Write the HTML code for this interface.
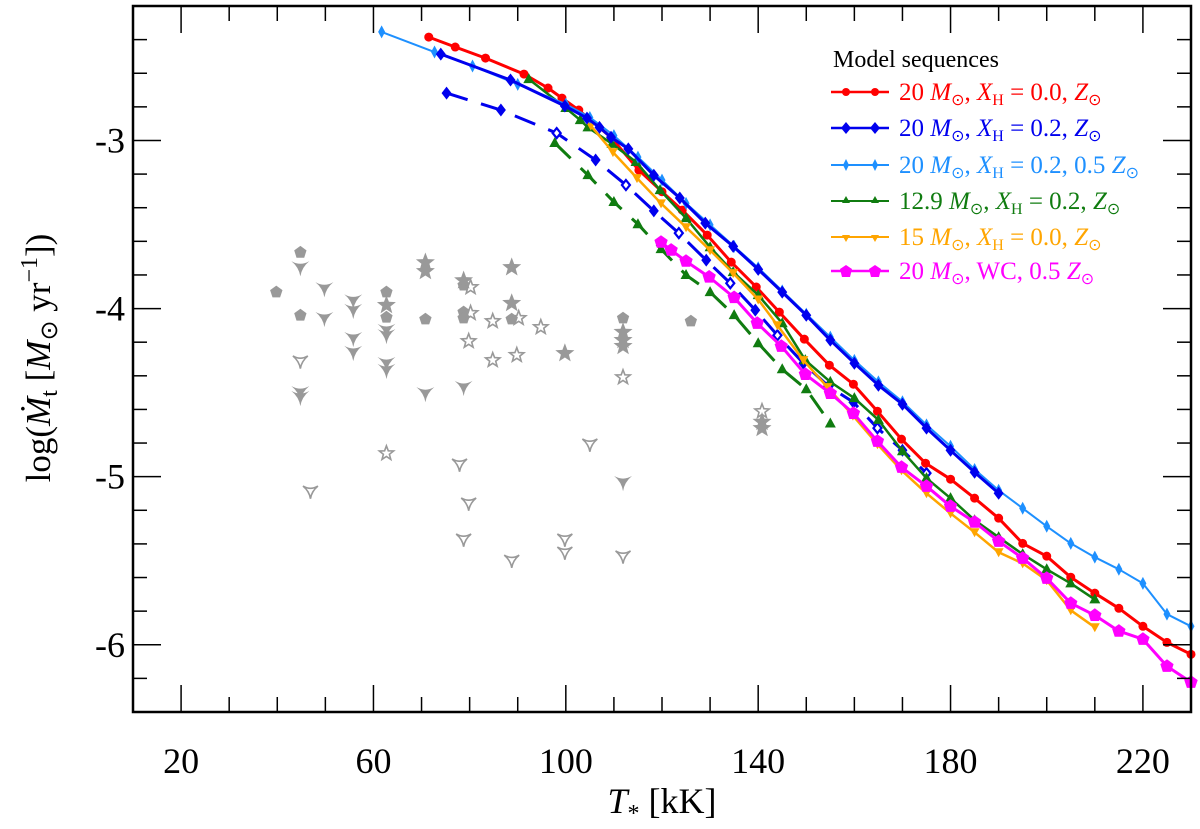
<!DOCTYPE html>
<html><head><meta charset="utf-8">
<style>
html,body{margin:0;padding:0;background:#fff;}
svg{display:block;font-family:"Liberation Serif",serif;}
</style></head>
<body>
<svg id="chart" width="1200" height="829" viewBox="0 0 1200 829" xmlns="http://www.w3.org/2000/svg">
<g id="obs"></g>
<g id="series"></g>
<g id="axes"></g>
</svg>
<script>
// ---- data ----
const redT = [71.5,77,83.3,91.3,96.3,99.2,102.7,109.4,115.2,120,124.2,129.4,134.4,139.6,144.4,149.6,154.8,159.8,164.8,169.8,174.8,180,185,190,195,200,205,210,215,220,225,230];
const redY = [-2.385,-2.444,-2.510,-2.605,-2.688,-2.748,-2.819,-2.981,-3.177,-3.305,-3.414,-3.563,-3.724,-3.872,-4.021,-4.182,-4.337,-4.450,-4.611,-4.777,-4.920,-5.015,-5.128,-5.247,-5.397,-5.473,-5.598,-5.693,-5.783,-5.890,-5.986,-6.057];
const blueT = [74,88.5,99.8,104.4,107,109.4,113,118.3,123.7,129,134.8,140,145,150,155,160,165,170,175,180,185,190];
const blueY = [-2.486,-2.640,-2.795,-2.867,-2.922,-2.981,-3.05,-3.207,-3.342,-3.492,-3.630,-3.767,-3.902,-4.040,-4.188,-4.325,-4.456,-4.569,-4.711,-4.843,-4.974,-5.099];
const lblueT = [61.7,72.7,80.6,90,100,105,110,115,120,125,130,135,140,145,150,155,160,165,170,175,180,185,190,195,200,205,210,215,220,225,230];
const lblueY = [-2.354,-2.474,-2.557,-2.666,-2.784,-2.863,-2.971,-3.099,-3.236,-3.374,-3.502,-3.630,-3.757,-3.895,-4.033,-4.170,-4.308,-4.436,-4.554,-4.692,-4.819,-4.957,-5.081,-5.188,-5.295,-5.397,-5.479,-5.551,-5.635,-5.818,-5.890];
const greenT = [92.3,100,103,104.6,109.6,114.6,119.6,125,130,134.8,140,145,149.8,155,160,165,170,175,180,185,190,195,200,205,210];
const greenY = [-2.635,-2.807,-2.879,-2.922,-3.020,-3.128,-3.295,-3.462,-3.635,-3.783,-3.920,-4.087,-4.307,-4.436,-4.533,-4.662,-4.849,-5.009,-5.128,-5.259,-5.360,-5.461,-5.551,-5.635,-5.730];
const orangeT = [105.2,109.8,114.8,119.8,125,130,134.8,140,144,149.4,154.4,159.7,164.8,169.8,175,180,185,190,195,200,205,210];
const orangeY = [-2.912,-3.069,-3.224,-3.374,-3.516,-3.653,-3.789,-3.946,-4.099,-4.307,-4.467,-4.637,-4.807,-4.962,-5.099,-5.218,-5.331,-5.450,-5.516,-5.616,-5.795,-5.896];
const magT = [119.8,121.9,125,129.8,135,139.8,144.8,149.8,155,159.8,164.8,169.8,175,180,185,190,195,200,205,210,215,220,225,230];
const magY = [-3.605,-3.652,-3.718,-3.812,-3.934,-4.087,-4.224,-4.391,-4.504,-4.623,-4.789,-4.944,-5.057,-5.176,-5.270,-5.384,-5.485,-5.604,-5.753,-5.825,-5.919,-5.967,-6.128,-6.223];
const bdashT = [75.2,86.5,98.1,106.2,112.5,118.3,123.5,129.2,134.2,139.4,144,149.4,154.6,159.8,164.8,170,175];
const bdashY = [-2.718,-2.819,-2.956,-3.116,-3.265,-3.419,-3.551,-3.712,-3.849,-4.009,-4.159,-4.325,-4.462,-4.557,-4.711,-4.843,-4.979];
const gdashT = [97.7,104.6,110,115,119.8,125,130,135,140,145,150,155];
const gdashY = [-3.015,-3.206,-3.366,-3.498,-3.646,-3.800,-3.902,-4.039,-4.206,-4.361,-4.480,-4.684];
const obsT = [44.8,44.8,39.8,49.8,44.8,49.8,55.8,55.8,55.8,55.8,62.7,62.7,62.7,62.7,62.7,62.7,62.7,70.8,70.8,70.8,78.75,78.75,80.2,78.75,78.75,80.2,88.75,88.75,88.75,90.2,84.8,94.8,79.8,84.8,89.8,44.8,44.8,44.8,62.7,70.8,78.75,77.9,46.9,79.8,78.75,88.75,99.8,111.9,111.9,111.9,111.9,111.9,126,140.8,140.8,140.8,105,111.9,99.8,99.8,111.9];
const obsY = [-3.666,-3.755,-3.902,-3.880,-4.040,-4.057,-3.952,-4.009,-4.176,-4.259,-3.902,-3.980,-4.052,-4.128,-4.159,-4.325,-4.366,-3.726,-3.778,-4.063,-3.833,-3.861,-3.873,-4.021,-4.057,-4.027,-3.755,-3.968,-4.063,-4.057,-4.075,-4.111,-4.194,-4.307,-4.277,-4.313,-4.498,-4.527,-4.861,-4.504,-4.467,-4.926,-5.087,-5.158,-5.372,-5.498,-4.266,-4.057,-4.140,-4.188,-4.224,-4.409,-4.075,-4.611,-4.675,-4.712,-4.807,-5.033,-5.450,-5.372,-5.473];
const obsType = ['P','Y','P','Y','P','Y','Y','Y','Y','Y','P','S','P','Y','Y','Y','Y','S','S','P','S','P','s','P','P','s','S','S','P','s','s','s','s','s','s','y','Y','Y','s','Y','Y','y','y','y','y','y','S','P','S','S','S','s','P','s','S','S','y','Y','y','y','y'];
const xTicks = [20,60,100,140,180,220];
const yTicks = [-3,-4,-5,-6];

// ---- axes ----
const L=133,R=1191,T0=6,B=712, XMIN=10, XMAX=230, YMIN=-6.4, YMAX=-2.2;
const X = t => L + (t-XMIN)/(XMAX-XMIN)*(R-L);
const Y = v => T0 + (YMAX-v)/(YMAX-YMIN)*(B-T0);
const NS='http://www.w3.org/2000/svg';
function mk(tag, attrs, parent){const e=document.createElementNS(NS,tag);for(const k in attrs)e.setAttribute(k,attrs[k]);parent.appendChild(e);return e;}

const obsG=document.getElementById('obs'), serG=document.getElementById('series'), axG=document.getElementById('axes');

function star(cx,cy,r){let p=[];for(let i=0;i<10;i++){const a=-Math.PI/2+i*Math.PI/5;const rr=i%2?r*0.42:r;p.push((cx+rr*Math.cos(a)).toFixed(1)+','+(cy+rr*Math.sin(a)).toFixed(1));}return p.join(' ');}
function pent(cx,cy,r){let p=[];for(let i=0;i<5;i++){const a=-Math.PI/2+i*2*Math.PI/5;p.push((cx+r*Math.cos(a)).toFixed(1)+','+(cy+r*Math.sin(a)).toFixed(1));}return p.join(' ');}
function tri(cx,cy,r){
  return `M${cx-r},${cy-r*0.7} Q${cx},${cy-r*0.1} ${cx+r},${cy-r*0.7} Q${cx+r*0.15},${cy} ${cx},${cy+r} Q${cx-r*0.15},${cy} ${cx-r},${cy-r*0.7}Z`;}
function diamond(cx,cy,w,h){return `${cx},${cy-h} ${cx+w},${cy} ${cx},${cy+h} ${cx-w},${cy}`;}

for(let i=0;i<obsT.length;i++){
  const cx=X(obsT[i]), cy=Y(obsY[i]), t=obsType[i]; let el;
  const g='#999';
  if(t==='P') el=mk('polygon',{points:pent(cx,cy,6.5),fill:g},obsG);
  else if(t==='S') el=mk('polygon',{points:star(cx,cy,10),fill:g},obsG);
  else if(t==='s') el=mk('polygon',{points:star(cx,cy,7.5),fill:'none',stroke:g,'stroke-width':1.6},obsG);
  else if(t==='Y') el=mk('path',{d:tri(cx,cy,9),fill:g},obsG);
  else el=mk('path',{d:tri(cx,cy,7.5),fill:'none',stroke:g,'stroke-width':1.6},obsG);
  
  
}

function marker(parent,kind,cx,cy,color,hollow){
  let el;
  if(kind==='circle') el=mk('circle',{cx,cy,r:4.5,fill:color},parent);
  else if(kind==='diamond') el=mk('polygon',{points:diamond(cx,cy,hollow?4:5,hollow?5:6.5),fill:hollow?'#fff':color,stroke:color,'stroke-width':hollow?2.2:0},parent);
  else if(kind==='thindiamond') el=mk('polygon',{points:diamond(cx,cy,3.5,6.5),fill:color},parent);
  else if(kind==='tri') el=mk('polygon',{points:`${cx},${cy-6} ${cx+5.5},${cy+4} ${cx-5.5},${cy+4}`,fill:color},parent);
  else if(kind==='dtri') el=mk('polygon',{points:`${cx},${cy+5} ${cx+5},${cy-4} ${cx-5},${cy-4}`,fill:color},parent);
  else el=mk('polygon',{points:pent(cx,cy,7),fill:color},parent);
  return el;
}
function series(name,Ts,Ys,color,w,kind,dash){
  const g=mk('g',{},serG);
  
  
  const pts=Ts.map((t,i)=>X(t).toFixed(1)+','+Y(Ys[i]).toFixed(1)).join(' ');
  const pl=mk('polyline',{points:pts,fill:'none',stroke:color,'stroke-width':w,'stroke-linejoin':'round','stroke-dasharray':dash||'none'},g);
  
  
  Ts.forEach((t,i)=>{
    const hollow = (name==='series-20-xh02-dashed' && i>=2 && i%2===0);
    const m=marker(g,kind,X(t),Y(Ys[i]),color,hollow);
    
    
  });
}
series('series-20-xh02-dashed',bdashT,bdashY,'#0000ee',3,'diamond','22,14');
series('series-12p9-dashed',gdashT,gdashY,'#107c10',3,'tri','22,14');
series('series-20-xh00',redT,redY,'#ff0000',3,'circle');
series('series-12p9-xh02',greenT,greenY,'#107c10',2.5,'tri');
series('series-15-xh00',orangeT,orangeY,'#ffa500',2.5,'dtri');
series('series-20-wc',magT,magY,'#ff00ff',3,'pent');
series('series-20-xh02-half-z',lblueT,lblueY,'#1e90ff',2,'thindiamond');
series('series-20-xh02',blueT,blueY,'#0000ee',3,'diamond');

const fr=mk('rect',{x:L,y:T0,width:R-L,height:B-T0,fill:'none',stroke:'#000','stroke-width':2.5},axG);


for(let t=20;t<=XMAX;t+=10){
  const major=(t-20)%40===0, len=major?27:15, x=X(t);
  mk('line',{x1:x,y1:B,x2:x,y2:B-len,stroke:'#000','stroke-width':1.5},axG);
  mk('line',{x1:x,y1:T0,x2:x,y2:T0+len,stroke:'#000','stroke-width':1.5},axG);
}
for(let k=-32;k<=-11;k++){
  const v=k/5, major=Math.abs(v-Math.round(v))<1e-6, len=major?28:14, y=Y(v);
  mk('line',{x1:L,y1:y,x2:L+len,y2:y,stroke:'#000','stroke-width':1.5},axG);
  mk('line',{x1:R,y1:y,x2:R-len,y2:y,stroke:'#000','stroke-width':1.5},axG);
}
xTicks.forEach(t=>{
  const e=mk('text',{x:X(t),y:773,'text-anchor':'middle','font-size':36},axG);
  e.textContent=t;
  
  
});
yTicks.forEach(v=>{
  const e=mk('text',{x:125,y:Y(v)+12,'text-anchor':'end','font-size':36},axG);
  e.textContent=v;
  
  
});
</script>
<svg style="position:absolute;left:0;top:0" width="1200" height="829">
<text x="662" y="813" text-anchor="middle" font-family="Liberation Serif, serif" font-size="36"><tspan font-style="italic">T</tspan><tspan font-size="24" dy="8">*</tspan><tspan dy="-8"> [kK]</tspan></text>
<text transform="translate(50,358) rotate(-90)" text-anchor="middle" font-family="Liberation Serif, serif" font-size="35">log(<tspan font-style="italic">Ṁ</tspan><tspan font-size="24" dy="7">t</tspan><tspan dy="-7"> [</tspan><tspan font-style="italic">M</tspan><tspan font-size="24" dy="7">⊙</tspan><tspan dy="-7"> yr</tspan><tspan font-size="24" dy="-13">−1</tspan><tspan dy="13">])</tspan></text>
<g font-family="Liberation Serif, serif" font-size="25">
<text x="833" y="67" fill="#000" font-size="24">Model sequences</text>
<g><line x1="831" y1="92" x2="889" y2="92" stroke="#f00" stroke-width="2.5"/><circle cx="846" cy="92" r="4" fill="#f00"/><circle cx="875" cy="92" r="4" fill="#f00"/><text x="899" y="100" fill="#f00">20 <tspan font-style="italic">M</tspan><tspan font-size="16" dy="5">⊙</tspan><tspan dy="-5">, </tspan><tspan font-style="italic">X</tspan><tspan font-size="16" dy="5">H</tspan><tspan dy="-5"> = 0.0, </tspan><tspan font-style="italic">Z</tspan><tspan font-size="16" dy="5">⊙</tspan></text></g>
<g><line x1="831" y1="128" x2="889" y2="128" stroke="#00e" stroke-width="2.5"/><polygon points="846,122 851,128 846,134 841,128" fill="#00e"/><polygon points="875,122 880,128 875,134 870,128" fill="#00e"/><text x="899" y="136" fill="#00e">20 <tspan font-style="italic">M</tspan><tspan font-size="16" dy="5">⊙</tspan><tspan dy="-5">, </tspan><tspan font-style="italic">X</tspan><tspan font-size="16" dy="5">H</tspan><tspan dy="-5"> = 0.2, </tspan><tspan font-style="italic">Z</tspan><tspan font-size="16" dy="5">⊙</tspan></text></g>
<g><line x1="831" y1="165" x2="889" y2="165" stroke="#1e90ff" stroke-width="2"/><polygon points="846,159 849,165 846,171 843,165" fill="#1e90ff"/><polygon points="875,159 878,165 875,171 872,165" fill="#1e90ff"/><text x="899" y="173" fill="#1e90ff">20 <tspan font-style="italic">M</tspan><tspan font-size="16" dy="5">⊙</tspan><tspan dy="-5">, </tspan><tspan font-style="italic">X</tspan><tspan font-size="16" dy="5">H</tspan><tspan dy="-5"> = 0.2, 0.5 </tspan><tspan font-style="italic">Z</tspan><tspan font-size="16" dy="5">⊙</tspan></text></g>
<g><line x1="831" y1="201" x2="889" y2="201" stroke="#107c10" stroke-width="2"/><polygon points="846,196 850,203 842,203" fill="#107c10"/><polygon points="875,196 879,203 871,203" fill="#107c10"/><text x="899" y="209" fill="#107c10">12.9 <tspan font-style="italic">M</tspan><tspan font-size="16" dy="5">⊙</tspan><tspan dy="-5">, </tspan><tspan font-style="italic">X</tspan><tspan font-size="16" dy="5">H</tspan><tspan dy="-5"> = 0.2, </tspan><tspan font-style="italic">Z</tspan><tspan font-size="16" dy="5">⊙</tspan></text></g>
<g><line x1="831" y1="237" x2="889" y2="237" stroke="#ffa500" stroke-width="2"/><polygon points="846,242 850,235 842,235" fill="#ffa500"/><polygon points="875,242 879,235 871,235" fill="#ffa500"/><text x="899" y="245" fill="#ffa500">15 <tspan font-style="italic">M</tspan><tspan font-size="16" dy="5">⊙</tspan><tspan dy="-5">, </tspan><tspan font-style="italic">X</tspan><tspan font-size="16" dy="5">H</tspan><tspan dy="-5"> = 0.0, </tspan><tspan font-style="italic">Z</tspan><tspan font-size="16" dy="5">⊙</tspan></text></g>
<g><line x1="831" y1="271" x2="889" y2="271" stroke="#f0f" stroke-width="2.5"/><polygon points="846,265 852,269 850,277 842,277 840,269" fill="#f0f"/><polygon points="875,265 881,269 879,277 871,277 869,269" fill="#f0f"/><text x="899" y="279" fill="#f0f">20 <tspan font-style="italic">M</tspan><tspan font-size="16" dy="5">⊙</tspan><tspan dy="-5">, WC, 0.5 </tspan><tspan font-style="italic">Z</tspan><tspan font-size="16" dy="5">⊙</tspan></text></g>
</g>
</svg>
</body></html>
